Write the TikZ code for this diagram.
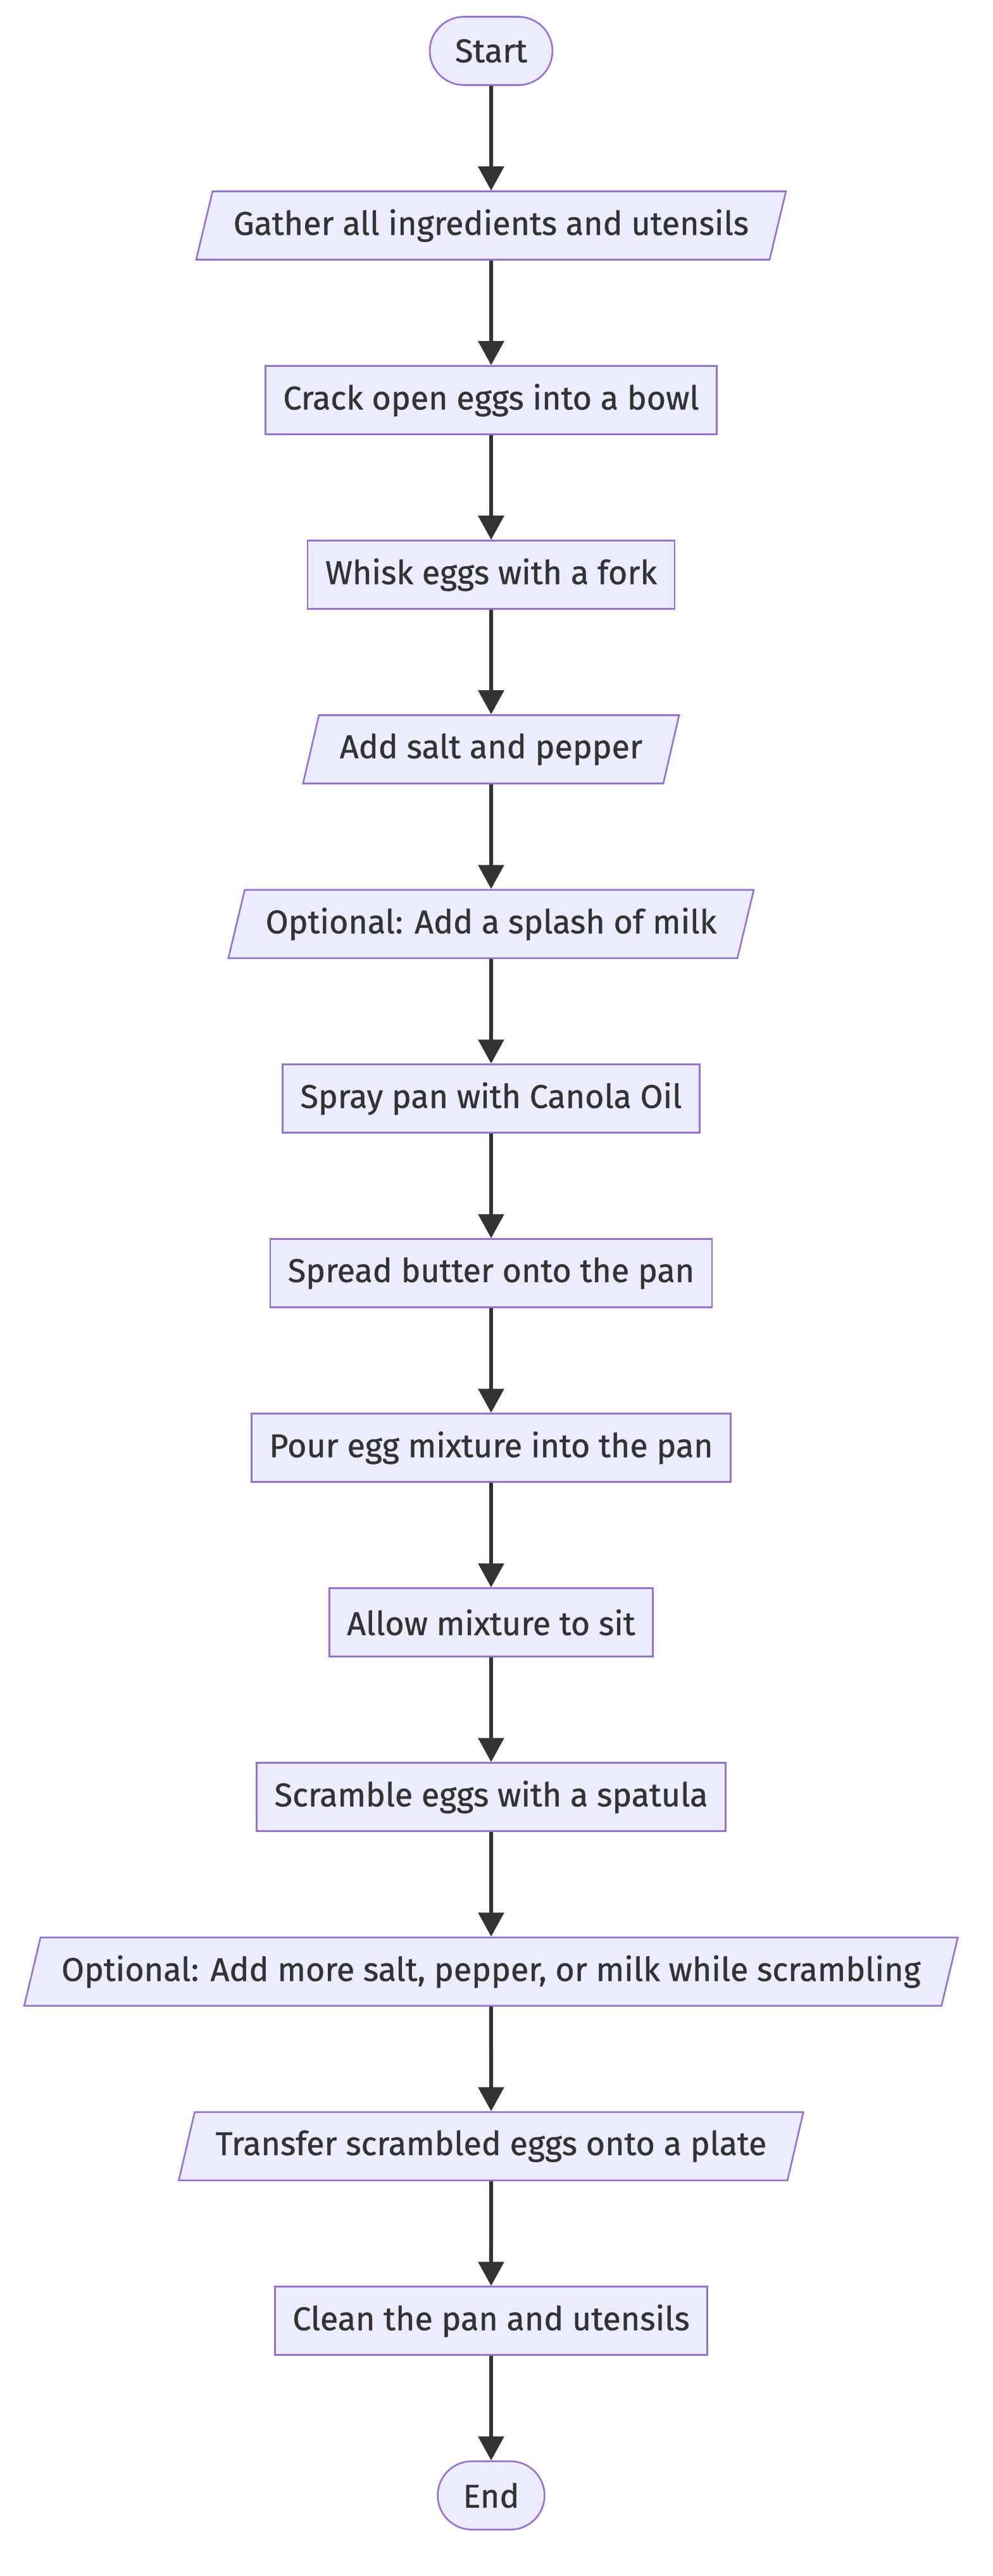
\documentclass[tikz,border=0pt]{standalone}
\usepackage{fontspec}
\setmainfont{Fira Sans}[FakeBold=0.8]
\usepackage{tikz}
\usetikzlibrary{positioning,arrows.meta,shapes.geometric}
\definecolor{nodefill}{HTML}{ECECFF}
\definecolor{nodeline}{HTML}{9370DB}
\definecolor{ink}{HTML}{333333}

\begin{document}
\begin{tikzpicture}[
    font=\fontsize{26}{31}\selectfont,
    node distance=82.7pt,
    base/.style={draw=nodeline, line width=1.3pt, fill=nodefill, text=ink,
                 minimum height=54pt, inner ysep=0pt},
    term/.style={base, rounded corners=27pt, inner xsep=20pt},
    stepbox/.style={base, inner xsep=14pt},
    io/.style={base, trapezium, trapezium left angle=63.4,
               trapezium right angle=116.6, trapezium stretches body=true,
               inner xsep=16.5pt},
    op/.style={-{Triangle[length=19pt, width=20pt]}, line width=3pt, ink},
  ]
  \useasboundingbox (0,0) rectangle (784pt,-2036pt);

  % --- preparation ---
  \node[term] (start) at (388pt,-40.25pt) {Start};
  \node[io, below=of start] (gather) {Gather all ingredients and utensils};
  \node[stepbox, below=of gather] (crack) {Crack open eggs into a bowl};
  \node[stepbox, below=of crack] (whisk) {Whisk eggs with a fork};
  \node[io, below=of whisk] (season) {Add salt and pepper};
  \node[io, below=of season] (milk) {Optional: Add a splash of milk};

  % --- cooking ---
  \node[stepbox, below=of milk] (spray) {Spray pan with Canola Oil};
  \node[stepbox, below=of spray] (butter) {Spread butter onto the pan};
  \node[stepbox, below=of butter] (pour) {Pour egg mixture into the pan};
  \node[stepbox, below=of pour] (sit) {Allow mixture to sit};
  \node[stepbox, below=of sit] (scramble) {Scramble eggs with a spatula};
  \node[io, below=of scramble] (extra)
    {Optional: Add more salt, pepper, or milk while scrambling};

  % --- finishing ---
  \node[io, below=of extra] (transfer) {Transfer scrambled eggs onto a plate};
  \node[stepbox, below=of transfer] (clean) {Clean the pan and utensils};
  \node[term, below=of clean] (finish) {End};

  \draw[op] (start) -- (gather); \draw[op] (gather) -- (crack);
  \draw[op] (crack) -- (whisk); \draw[op] (whisk) -- (season);
  \draw[op] (season) -- (milk); \draw[op] (milk) -- (spray);
  \draw[op] (spray) -- (butter); \draw[op] (butter) -- (pour);
  \draw[op] (pour) -- (sit); \draw[op] (sit) -- (scramble);
  \draw[op] (scramble) -- (extra); \draw[op] (extra) -- (transfer);
  \draw[op] (transfer) -- (clean); \draw[op] (clean) -- (finish);
\end{tikzpicture}
\end{document}
